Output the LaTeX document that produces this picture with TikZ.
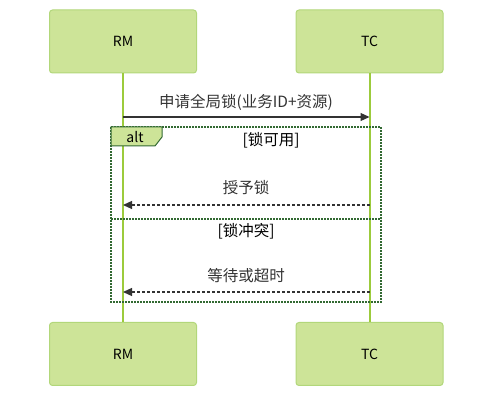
\documentclass[tikz,border=0pt]{standalone}
\usepackage{fontspec}
\setmainfont{Noto Sans CJK SC}
\usetikzlibrary{arrows.meta,positioning}
\definecolor{actfill}{HTML}{CDE498}
\definecolor{actline}{HTML}{B2D77A}
\definecolor{lifeline}{HTML}{9CCB3C}
\definecolor{framegreen}{HTML}{326932}
\definecolor{msgdark}{HTML}{333333}
\tikzset{
  actor/.style={draw=actline, fill=actfill, line width=1pt, rounded corners=3pt,
    minimum width=147pt, minimum height=63pt, font=\fontsize{14}{16}\selectfont, inner sep=0pt},
  msg/.style={msgdark, line width=1.2pt, -{Triangle[length=9pt,width=8pt]}},
  reply/.style={msg, dash pattern=on 3pt off 2pt},
  msglabel/.style={font=\fontsize{15.5}{18}\selectfont, text=msgdark},
  guard/.style={font=\fontsize{15.5}{18}\selectfont, text=black}
}

\begin{document}
\begin{tikzpicture}[x=1pt,y=-1pt]
\useasboundingbox (0,0) rectangle (501,403);
% Actors top and bottom
\node[actor] (rmtop) at (123,41.5) {RM};
\node[actor] (tctop) at (369.5,41.5) {TC};
\node[actor] (rmbot) at (123,354) {RM};
\node[actor] (tcbot) at (369.5,354) {TC};
% Lifelines
\draw[lifeline, line width=2pt] (rmtop.south) -- (rmbot.north);
\draw[lifeline, line width=2pt] (tctop.south) -- (tcbot.north);
% Alt frame
\draw[framegreen, line width=1.6pt, dash pattern=on 1.6pt off 1.4pt] (111,127) rectangle (381,302);
\draw[framegreen, line width=1.6pt, dash pattern=on 1.6pt off 1.4pt] (111,219) -- (381,219);
\draw[framegreen, line width=1pt, fill=actfill] (111,127) -- (162,127) -- (162,137) -- (155,146) -- (111,146) -- cycle;
\node[font=\fontsize{14}{16}\selectfont] (altlabel) at (135,137) {alt};
\node[guard] (guardok) at (271,140) {[锁可用]};
\node[guard] (guardbusy) at (246,231) {[锁冲突]};
% Messages
\coordinate (rm1) at (123,117);
\coordinate (tc1) at (369.5,117);
\draw[msg] (rm1) -- (tc1);
\node[msglabel] (m1) at (246,102) {申请全局锁(业务ID+资源)};
\coordinate (rm2) at (123,205);
\coordinate (tc2) at (369.5,205);
\draw[reply] (tc2) -- (rm2);
\node[msglabel] (m2) at (246,188) {授予锁};
\coordinate (rm3) at (123,292);
\coordinate (tc3) at (369.5,292);
\draw[reply] (tc3) -- (rm3);
\node[msglabel] (m3) at (246,276) {等待或超时};
\end{tikzpicture}
\end{document}
